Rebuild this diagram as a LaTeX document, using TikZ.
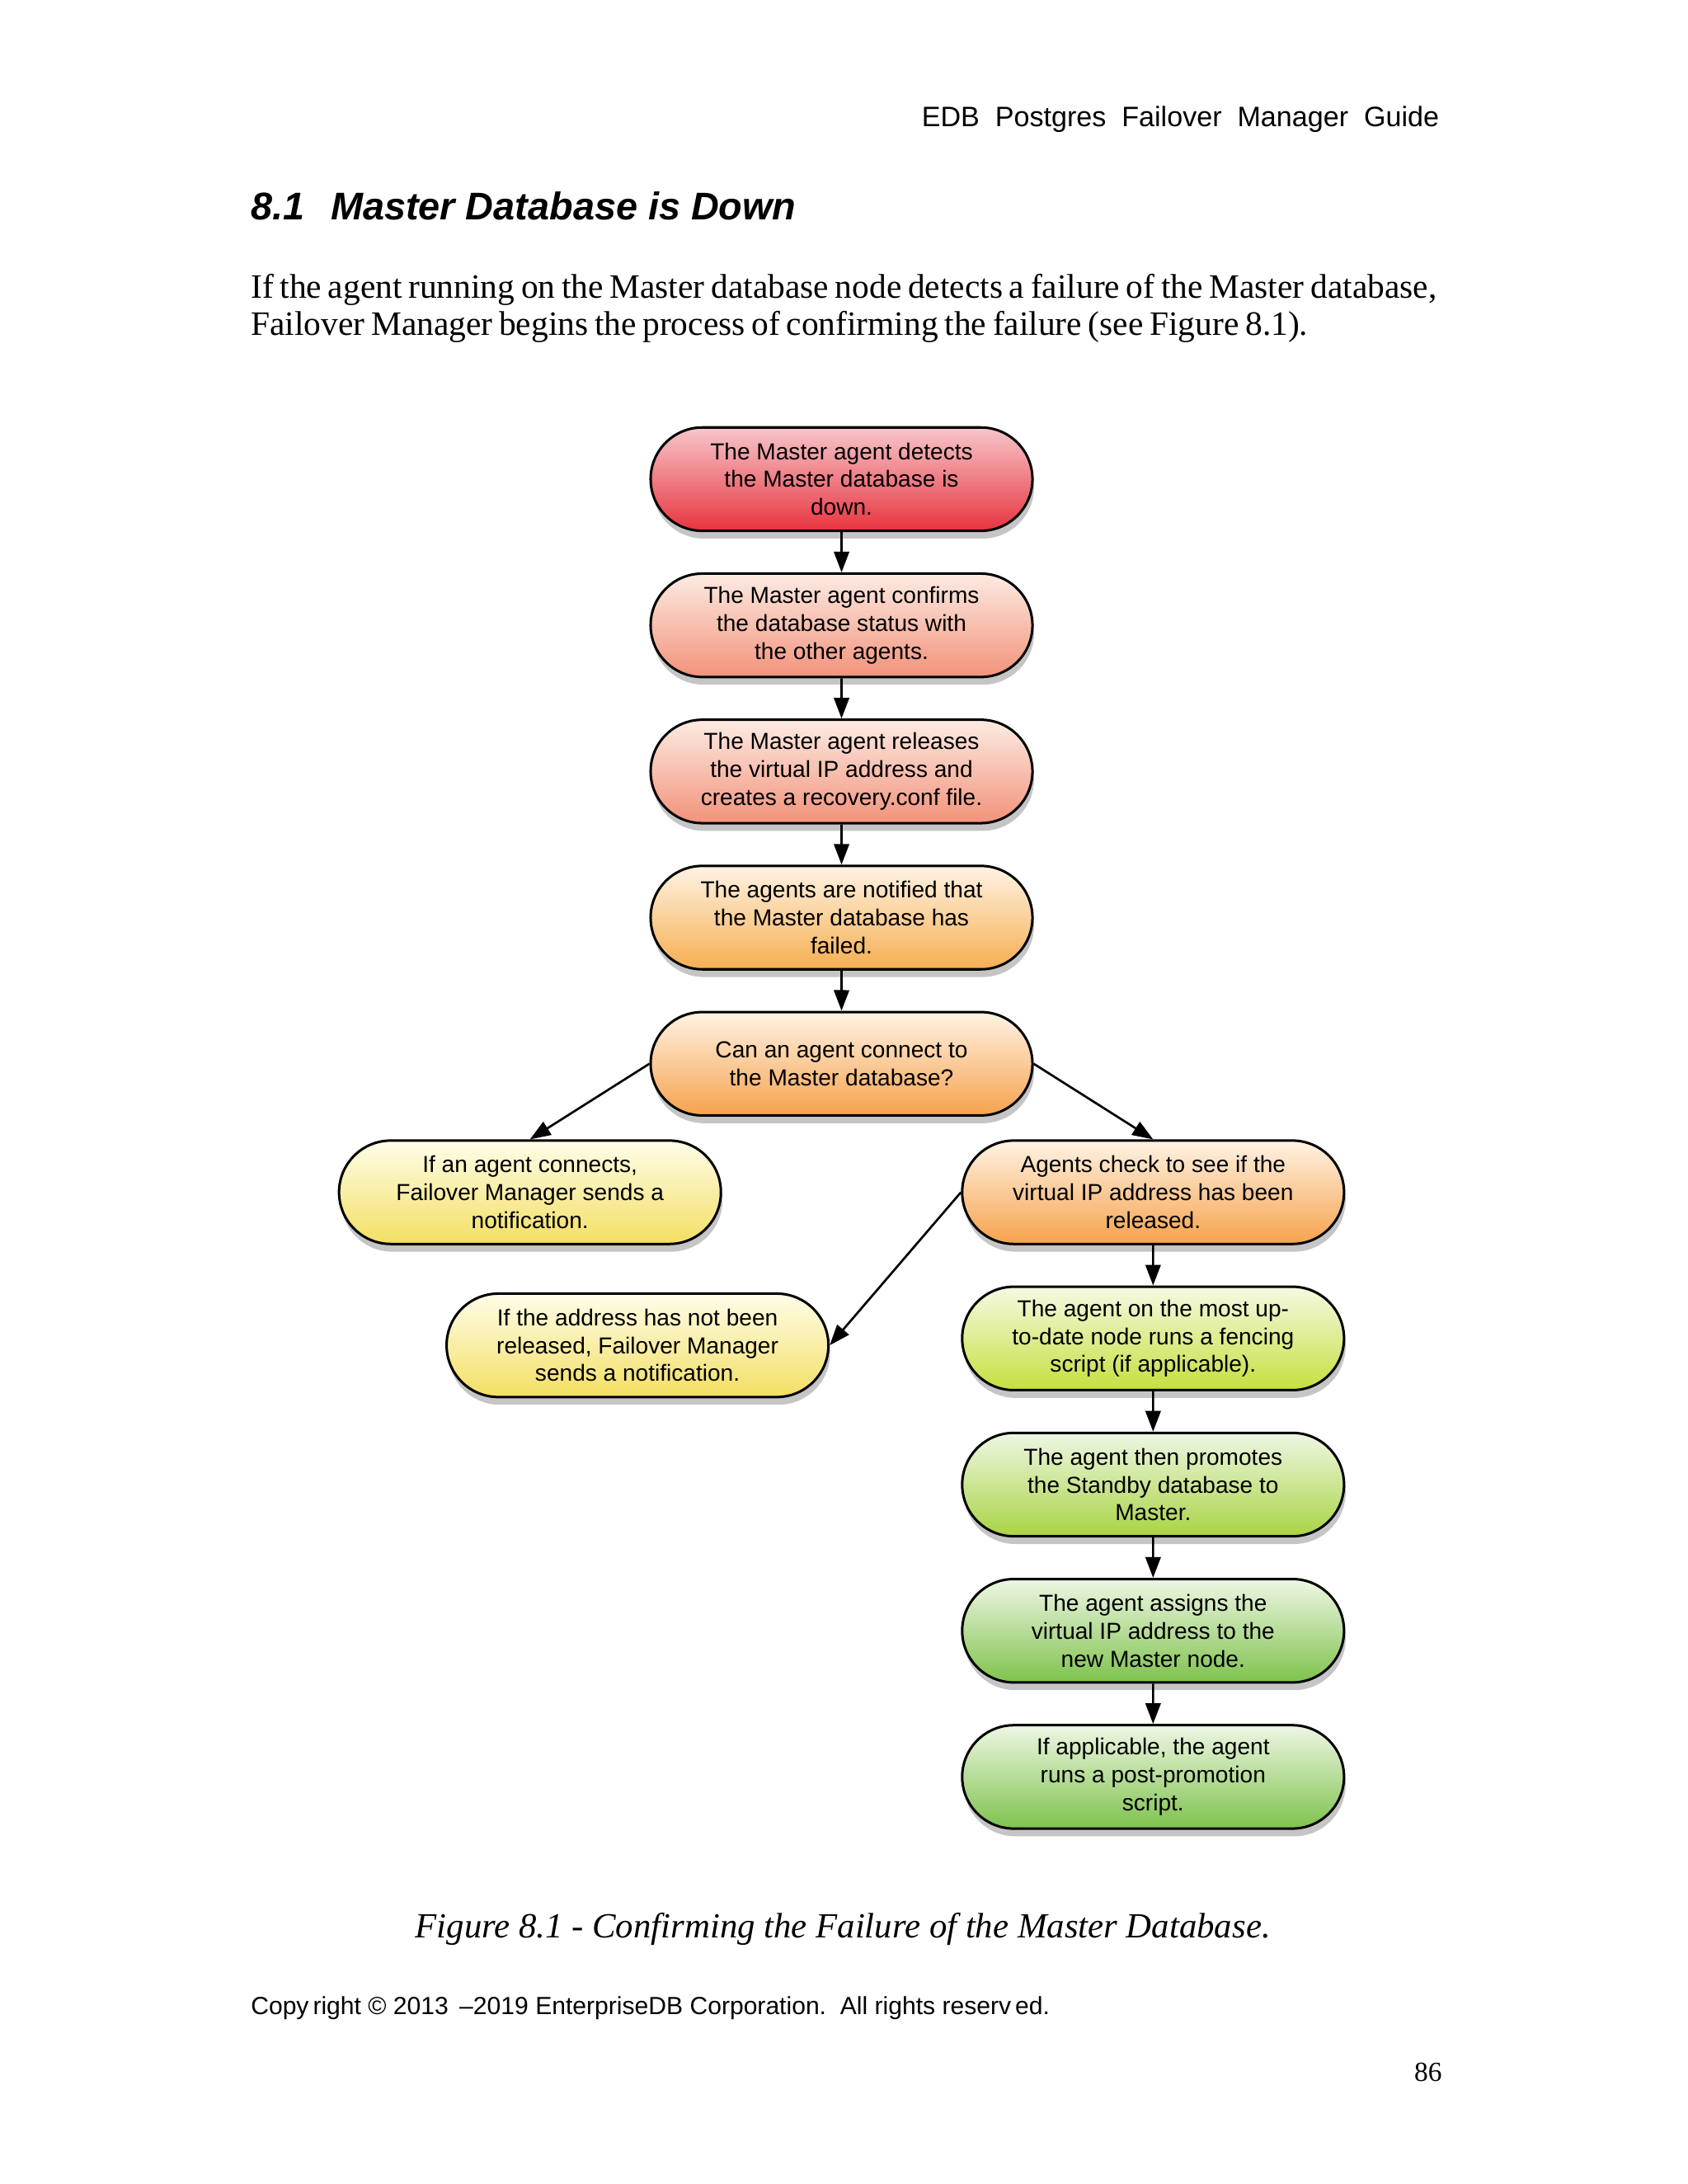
\documentclass[tikz,border=0pt]{standalone}
\usepackage{fontspec}
\setmainfont{Liberation Serif}
\setsansfont{Liberation Sans}
\usetikzlibrary{shapes.misc,arrows.meta,positioning,shadows}

\definecolor{redlo}{HTML}{E8343F}
\definecolor{redhi}{HTML}{F7C6CA}
\definecolor{salmonlo}{HTML}{F2927A}
\definecolor{salmonhi}{HTML}{FDEBE3}
\definecolor{orangelo}{HTML}{F6A24C}
\definecolor{orangehi}{HTML}{FFF3E4}
\definecolor{yellowlo}{HTML}{F3DF62}
\definecolor{yellowhi}{HTML}{FFFDEA}
\definecolor{limelo}{HTML}{C6DF3E}
\definecolor{limehi}{HTML}{F5FAE2}
\definecolor{greenlo}{HTML}{7EC24C}
\definecolor{greenhi}{HTML}{EEF7E4}

\newcommand\tightwords{\spaceskip=2.3pt plus 0.5pt\relax}

\begin{document}
\begin{tikzpicture}[
    x=0.5045pt, y=-0.5051pt,
    node distance=14.6pt,
    block/.style={rounded rectangle,draw,line width=0.9pt,minimum width=142.5pt,minimum height=37.5pt,
        inner sep=2pt,align=center,font=\sffamily\fontsize{8.4}{10.1}\selectfont,
        drop shadow={shadow xshift=0.6pt,shadow yshift=-2.8pt,opacity=0.45}},
    fillgrad/.style 2 args={top color=#1,bottom color=#2},
    line/.style={draw,line width=0.8pt,-{Triangle[length=7.5pt,width=5.5pt]}}]

    \useasboundingbox[fill=white] (0,0) rectangle (1213,1568);

    % Page text
    \node[anchor=base east,inner sep=0pt,font=\sffamily\fontsize{10.2}{12}\selectfont] (header) at (1035,91)
        {EDB\ \ Postgres\ \ Failover\ \ Manager\ \ Guide};
    \node[anchor=base west,inner sep=0pt,font=\sffamily\bfseries\itshape\fontsize{14}{16}\selectfont] (title) at (180,158)
        {8.1\hspace{9.5pt}Master Database is Down};
    \node[anchor=base west,inner sep=0pt,font=\fontsize{12.4}{14}\selectfont] (introa) at (180,214)
        {\tightwords If the agent running on the Master database node detects a failure of the Master database,};
    \node[anchor=base west,inner sep=0pt,font=\fontsize{12.4}{14}\selectfont] (introb) at (180,241)
        {\tightwords Failover Manager begins the process of confirming the failure (see Figure 8.1).};

    % Main chain
    \node[block,fillgrad={redhi}{redlo}] (detect) at (605,344)
        {The Master agent detects\\the Master database is\\down.};
    \node[block,fillgrad={salmonhi}{salmonlo},below=of detect] (confirm)
        {The Master agent confirms\\the database status with\\the other agents.};
    \node[block,fillgrad={salmonhi}{salmonlo},below=of confirm] (release)
        {The Master agent releases\\the virtual IP address and\\creates a recovery.conf file.};
    \node[block,fillgrad={orangehi}{orangelo!80!yellowlo},below=of release] (notify)
        {The agents are notified that\\the Master database has\\failed.};
    \node[block,fillgrad={orangehi}{orangelo},below=of notify] (connect)
        {Can an agent connect to\\the Master database?};

    % Branches
    \node[block,fillgrad={yellowhi}{yellowlo},below=8.2pt of connect,xshift=-113pt] (notifyok)
        {If an agent connects,\\Failover Manager sends a\\notification.};
    \node[block,fillgrad={orangehi}{orangelo},below=8.2pt of connect,xshift=113pt] (checkip)
        {Agents check to see if the\\virtual IP address has been\\released.};
    \node[block,fillgrad={limehi}{limelo},below=of checkip] (fence)
        {The agent on the most up-\\to-date node runs a fencing\\script (if applicable).};
    \node[block,fillgrad={yellowhi}{yellowlo},left=47.6pt of fence,yshift=-2.5pt] (notrel)
        {If the address has not been\\released, Failover Manager\\sends a notification.};
    \node[block,fillgrad={greenhi}{limelo!60!greenlo},below=of fence] (promote)
        {The agent then promotes\\the Standby database to\\Master.};
    \node[block,fillgrad={greenhi}{greenlo},below=of promote] (assign)
        {The agent assigns the\\virtual IP address to the\\new Master node.};
    \node[block,fillgrad={greenhi}{greenlo},below=of assign] (postscript)
        {If applicable, the agent\\runs a post-promotion\\script.};

    % Connect steps
    \path[line] (detect) -- (confirm);
    \path[line] (confirm) -- (release);
    \path[line] (release) -- (notify);
    \path[line] (notify) -- (connect);
    \path[line] (connect.west) -- (notifyok.north);
    \path[line] (connect.east) -- (checkip.north);
    \path[line] (checkip.west) -- (notrel.east);
    \path[line] (checkip) -- (fence);
    \path[line] (fence) -- (promote);
    \path[line] (promote) -- (assign);
    \path[line] (assign) -- (postscript);

    % Caption and footer
    \node[anchor=base,inner sep=0pt,font=\itshape\fontsize{12.8}{14}\selectfont] (caption) at (606,1391)
        {Figure 8.1 - Confirming the Failure of the Master Database.};
    \node[anchor=base west,inner sep=0pt,font=\sffamily\fontsize{9}{10}\selectfont] (copyright) at (180,1446)
        {Copy\,right \textcopyright\ 2013 \,--2019\ EnterpriseDB Corporation.\ \ All rights reserv\,ed.};
    \node[anchor=base east,inner sep=0pt,font=\fontsize{10}{12}\selectfont] (pagenum) at (1037,1494) {86};
\end{tikzpicture}
\end{document}
